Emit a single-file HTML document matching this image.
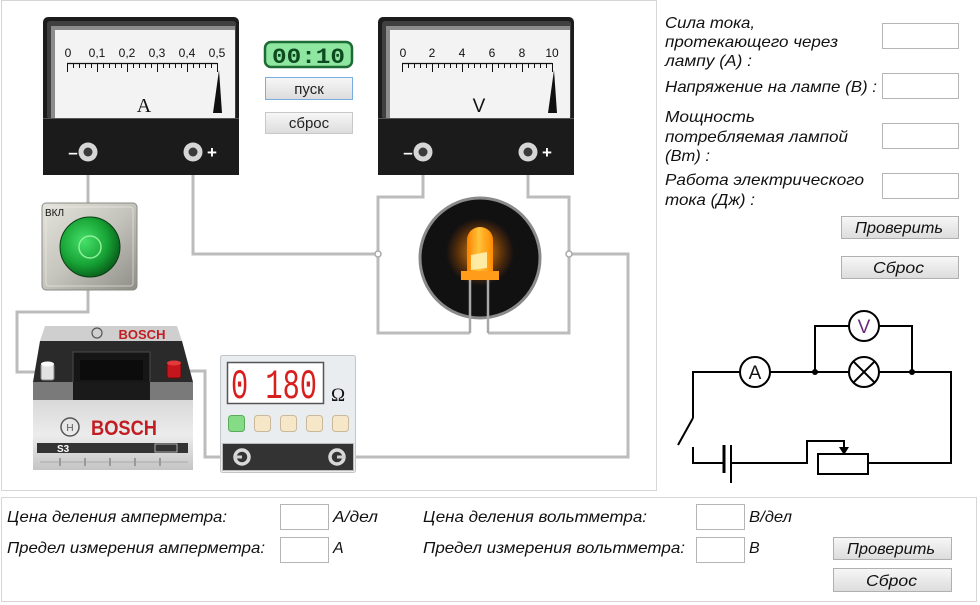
<!DOCTYPE html>
<html><head><meta charset="utf-8">
<style>
html,body{margin:0;padding:0;background:#fff;}
svg{display:block;font-family:"Liberation Sans",sans-serif;}
.it{font-style:italic;font-size:16px;fill:#111;}
</style></head>
<body>
<svg width="980" height="605" viewBox="0 0 980 605" xmlns="http://www.w3.org/2000/svg">
<defs>
  <linearGradient id="btn" x1="0" y1="0" x2="0" y2="1">
    <stop offset="0" stop-color="#f7f7f7"/><stop offset="1" stop-color="#dcdcdc"/>
  </linearGradient>
  <linearGradient id="silver" x1="0" y1="0" x2="1" y2="1">
    <stop offset="0" stop-color="#e4e4dc"/><stop offset="0.5" stop-color="#c4c4bc"/><stop offset="1" stop-color="#8e8e86"/>
  </linearGradient>
  <radialGradient id="green" cx="0.4" cy="0.4" r="0.65">
    <stop offset="0" stop-color="#46e06a"/><stop offset="0.6" stop-color="#18a436"/><stop offset="1" stop-color="#075a18"/>
  </radialGradient>
  <radialGradient id="glow" cx="0.5" cy="0.5" r="0.5">
    <stop offset="0" stop-color="#ffb020" stop-opacity="0.9"/><stop offset="0.6" stop-color="#ff8000" stop-opacity="0.35"/><stop offset="1" stop-color="#ff6000" stop-opacity="0"/>
  </radialGradient>
  <linearGradient id="led" x1="0" y1="0" x2="1" y2="0">
    <stop offset="0" stop-color="#ff8200"/><stop offset="0.45" stop-color="#ffc23a"/><stop offset="1" stop-color="#ff8a00"/>
  </linearGradient>
  <linearGradient id="batbody" x1="0" y1="0" x2="0" y2="1">
    <stop offset="0" stop-color="#d8d8d8"/><stop offset="0.5" stop-color="#ececec"/><stop offset="1" stop-color="#c4c4c4"/>
  </linearGradient>
  <g id="meter">
    <rect x="43" y="17" width="196" height="158" rx="5" fill="#1c1c1c"/>
    <rect x="47" y="21" width="189" height="98" rx="3" fill="#404040"/>
    <rect x="51" y="26" width="184" height="93" fill="#8c8c8c"/>
    <rect x="55" y="30" width="180" height="88" fill="#f3f3f3"/>
    <rect x="43" y="118" width="196" height="57" fill="#1b1b1b"/>
    <line x1="43" y1="118.5" x2="239" y2="118.5" stroke="#555" stroke-width="1"/>
    <path d="M67 63.5H217" stroke="#111" stroke-width="1.2"/>
    <path d="M67.5 63v9M73.5 63v5M79.5 63v5M85.5 63v5M91.5 63v5M97.5 63v9M103.5 63v5M109.5 63v5M115.5 63v5M121.5 63v5M127.5 63v9M133.5 63v5M139.5 63v5M145.5 63v5M151.5 63v5M157.5 63v9M163.5 63v5M169.5 63v5M175.5 63v5M181.5 63v5M187.5 63v9M193.5 63v5M199.5 63v5M205.5 63v5M211.5 63v5M217.5 63v9" stroke="#111" stroke-width="1"/>
    <polygon points="219,70 213,113 222,113" fill="#111"/>
    <circle cx="88" cy="152" r="9.5" fill="#d6d6d6"/>
    <circle cx="88" cy="152" r="4.5" fill="#3a3a3a"/>
    <circle cx="193" cy="152" r="9.5" fill="#d6d6d6"/>
    <circle cx="193" cy="152" r="4.5" fill="#3a3a3a"/>
  </g>
</defs>

<rect width="980" height="605" fill="#fff"/>
<rect x="1.5" y="0.5" width="655" height="490" fill="none" stroke="#d6d6d6"/>
<rect x="1.5" y="497.5" width="975" height="104" fill="none" stroke="#d6d6d6"/>

<!-- wires -->
<g fill="none" stroke="#bcbcbc" stroke-width="3">
  <polyline points="88,152 88,205"/>
  <polyline points="88,288 88,312 17,312 17,372 42,372"/>
  <polyline points="180,371 205,371 205,457 242,457"/>
  <polyline points="193,152 193,254 378,254"/>
  <polyline points="423,152 423,197 378,197 378,333 470,333"/>
  <polyline points="528,152 528,197 569,197 569,333 488,333"/>
  <polyline points="569,254 628,254 628,457 337,457"/>
</g>
<circle cx="378" cy="254" r="3" fill="#fff" stroke="#aaa" stroke-width="1.5"/>
<circle cx="569" cy="254" r="3" fill="#fff" stroke="#aaa" stroke-width="1.5"/>

<!-- ammeter -->
<use href="#meter"/>
<g font-size="12" fill="#111" text-anchor="middle">
  <text x="68" y="57">0</text><text x="97" y="57">0,1</text><text x="127" y="57">0,2</text>
  <text x="157" y="57">0,3</text><text x="187" y="57">0,4</text><text x="217" y="57">0,5</text>
</g>
<text x="144" y="112" font-family="Liberation Serif,serif" font-size="20" text-anchor="middle" fill="#111">A</text>
<text x="73" y="158" font-size="17" font-weight="bold" fill="#fff" text-anchor="middle">–</text>
<text x="212" y="158" font-size="17" font-weight="bold" fill="#fff" text-anchor="middle">+</text>

<!-- voltmeter -->
<use href="#meter" transform="translate(335,0)"/>
<g font-size="12" fill="#111" text-anchor="middle">
  <text x="403" y="57">0</text><text x="432" y="57">2</text><text x="462" y="57">4</text>
  <text x="492" y="57">6</text><text x="522" y="57">8</text><text x="552" y="57">10</text>
</g>
<text x="479" y="112" font-size="19" text-anchor="middle" fill="#111">V</text>
<text x="408" y="158" font-size="17" font-weight="bold" fill="#fff" text-anchor="middle">–</text>
<text x="547" y="158" font-size="17" font-weight="bold" fill="#fff" text-anchor="middle">+</text>

<!-- timer -->
<rect x="265" y="42" width="87" height="25" rx="6" fill="#8ee6a0" stroke="#1d6b35" stroke-width="2.5"/>
<text x="272" y="63" font-family="Liberation Mono,monospace" font-weight="bold" font-size="22" fill="#0e4a20" textLength="73" lengthAdjust="spacingAndGlyphs">00:10</text>
<rect x="265.5" y="77.5" width="87" height="22" fill="url(#btn)" stroke="#77aee0"/>
<text x="309" y="94" font-size="15" fill="#222" text-anchor="middle">пуск</text>
<rect x="265.5" y="112.5" width="87" height="21" fill="url(#btn)" stroke="#c8c8c8"/>
<text x="309" y="128" font-size="15" fill="#222" text-anchor="middle">сброс</text>

<!-- switch -->
<rect x="42" y="203" width="95" height="87" rx="4" fill="url(#silver)" stroke="#8a8a84"/>
<rect x="46" y="207" width="87" height="79" rx="3" fill="none" stroke="#eeeee8" stroke-opacity="0.6"/>
<text x="45" y="216" font-size="10" fill="#111">ВКЛ</text>
<circle cx="90" cy="247" r="30" fill="url(#green)" stroke="#0b3d14" stroke-width="1"/>
<circle cx="90" cy="247" r="11" fill="none" stroke="#8ff09a" stroke-width="1.5"/>

<!-- battery -->
<polygon points="45,326 177,326 182,341 40,341" fill="#cfcfcf"/>
<text x="142" y="339" font-size="13" font-weight="bold" fill="#c21d22" text-anchor="middle">BOSCH</text>
<circle cx="97" cy="333" r="5" fill="none" stroke="#555" stroke-width="1.2"/>
<polygon points="40,341 182,341 193,382 33,382" fill="#2a2a2a"/>
<rect x="73" y="352" width="77" height="48" fill="#161616" stroke="#4a4a4a"/>
<rect x="80" y="360" width="63" height="20" fill="#0c0c0c"/>
<polygon points="33,382 193,382 193,400 33,400" fill="#7a7a7a"/>
<rect x="73" y="382" width="77" height="18" fill="#1a1a1a"/>
<rect x="41" y="364" width="13" height="16" rx="2" fill="#e2e2e2" stroke="#888"/>
<ellipse cx="47.5" cy="364" rx="6.5" ry="2.5" fill="#fafafa"/>
<rect x="167" y="363" width="14" height="15" rx="2" fill="#c4161c" stroke="#6a0a0a"/>
<ellipse cx="174" cy="363" rx="7" ry="2.5" fill="#e23a3a"/>
<rect x="33" y="400" width="160" height="70" fill="url(#batbody)"/>
<circle cx="70" cy="427" r="9" fill="none" stroke="#555" stroke-width="1.5"/>
<text x="70" y="431" font-size="10" fill="#555" text-anchor="middle">H</text>
<text x="124" y="435" font-size="21" font-weight="bold" fill="#c21d22" text-anchor="middle" textLength="66" lengthAdjust="spacingAndGlyphs">BOSCH</text>
<rect x="37" y="443" width="151" height="10" fill="#333"/>
<text x="57" y="452" font-size="10" font-weight="bold" fill="#fff">S3</text>
<rect x="155" y="444" width="22" height="8" fill="none" stroke="#ccc" stroke-width="0.8"/>
<path d="M40 462H188" stroke="#aaa" stroke-width="1"/>
<path d="M60 458v8M85 458v8M110 458v8M135 458v8M160 458v8" stroke="#999" stroke-width="2"/>

<!-- resistor box -->
<rect x="220.5" y="355.5" width="135" height="117" rx="2" fill="#e9edf0" stroke="#c2c6c9"/>
<rect x="227.5" y="362.5" width="96" height="41" fill="#fff" stroke="#555" stroke-width="1.5"/>
<text x="231" y="398" font-family="Liberation Mono,monospace" font-size="42" fill="#d91e1e" textLength="86" lengthAdjust="spacingAndGlyphs">0 180</text>
<text x="338" y="401" font-family="Liberation Serif,serif" font-size="19" fill="#111" text-anchor="middle">Ω</text>
<rect x="228.5" y="415.5" width="16" height="16" rx="3" fill="#86dc86" stroke="#5aaa5a"/>
<rect x="254.5" y="415.5" width="16" height="16" rx="3" fill="#f6e7c8" stroke="#c9b99a"/>
<rect x="280.5" y="415.5" width="16" height="16" rx="3" fill="#f6e7c8" stroke="#c9b99a"/>
<rect x="306.5" y="415.5" width="16" height="16" rx="3" fill="#f6e7c8" stroke="#c9b99a"/>
<rect x="332.5" y="415.5" width="16" height="16" rx="3" fill="#f6e7c8" stroke="#c9b99a"/>
<rect x="222.5" y="443.5" width="131" height="27" fill="#333" stroke="#bbb"/>
<circle cx="242" cy="457" r="7" fill="#333" stroke="#d8d8d8" stroke-width="3.5"/>
<circle cx="337" cy="457" r="7" fill="#333" stroke="#d8d8d8" stroke-width="3.5"/>
<line x1="234" y1="457" x2="242" y2="457" stroke="#d0d0d0" stroke-width="3"/>
<line x1="337" y1="457" x2="345" y2="457" stroke="#d0d0d0" stroke-width="3"/>

<!-- lamp -->
<circle cx="480" cy="258" r="60" fill="#111" stroke="#8a8a8a" stroke-width="3"/>
<circle cx="480" cy="252" r="34" fill="url(#glow)"/>
<line x1="470" y1="276" x2="470" y2="333" stroke="#a8a8a8" stroke-width="2.5"/>
<line x1="488" y1="276" x2="488" y2="333" stroke="#a8a8a8" stroke-width="2.5"/>
<path d="M467 273V240A13 13 0 0 1 493 240V273Z" fill="url(#led)"/>
<polygon points="471,255 487,252 487,268 471,270" fill="#fff1b0" opacity="0.9"/>
<rect x="461" y="271" width="38" height="9" fill="#ff9d1a"/>

<!-- right panel text -->
<text class="it" x="665" y="28" textLength="90" lengthAdjust="spacingAndGlyphs">Сила тока,</text>
<text class="it" x="665" y="47" textLength="173" lengthAdjust="spacingAndGlyphs">протекающего через</text>
<text class="it" x="665" y="66" textLength="87" lengthAdjust="spacingAndGlyphs">лампу (А) :</text>
<text class="it" x="665" y="92" textLength="212" lengthAdjust="spacingAndGlyphs">Напряжение на лампе (В) :</text>
<text class="it" x="665" y="122" textLength="90" lengthAdjust="spacingAndGlyphs">Мощность</text>
<text class="it" x="665" y="142" textLength="183" lengthAdjust="spacingAndGlyphs">потребляемая лампой</text>
<text class="it" x="665" y="161" textLength="45" lengthAdjust="spacingAndGlyphs">(Вт) :</text>
<text class="it" x="665" y="185" textLength="199" lengthAdjust="spacingAndGlyphs">Работа электрического</text>
<text class="it" x="665" y="205" textLength="90" lengthAdjust="spacingAndGlyphs">тока (Дж) :</text>
<g fill="#fff" stroke="#b5b5b5">
  <rect x="882.5" y="23.5" width="76" height="25"/>
  <rect x="882.5" y="73.5" width="76" height="25"/>
  <rect x="882.5" y="123.5" width="76" height="25"/>
  <rect x="882.5" y="173.5" width="76" height="25"/>
</g>
<rect x="841.5" y="216.5" width="117" height="22" fill="url(#btn)" stroke="#b0b0b0"/>
<text class="it" x="855" y="233" textLength="88" lengthAdjust="spacingAndGlyphs">Проверить</text>
<rect x="841.5" y="256.5" width="117" height="22" fill="url(#btn)" stroke="#b0b0b0"/>
<text class="it" x="873" y="273" textLength="51" lengthAdjust="spacingAndGlyphs">Сброс</text>

<!-- circuit diagram -->
<g fill="none" stroke="#000" stroke-width="2">
  <path d="M693 418V372H740M770 372H849M879 372H951V463H868"/>
  <path d="M693 418L678 445"/>
  <path d="M693 447V463H724"/>
  <path d="M731 463H807V441H844V450"/>
  <path d="M815 372V326H849M879 326H912V372"/>
  <rect x="818" y="454" width="50" height="20"/>
  <circle cx="755" cy="372" r="15" fill="#fff"/>
  <circle cx="864" cy="326" r="15" fill="#fff"/>
  <circle cx="864" cy="372" r="15" fill="#fff"/>
  <path d="M853.4 361.4L874.6 382.6M874.6 361.4L853.4 382.6"/>
  <path d="M724 445V473" stroke-width="3"/>
  <path d="M731 445V483"/>
</g>
<polygon points="839,447 849,447 844,455" fill="#000"/>
<circle cx="815" cy="372" r="3" fill="#000"/>
<circle cx="912" cy="372" r="3" fill="#000"/>
<text x="755" y="379" font-size="19" text-anchor="middle" fill="#111">A</text>
<text x="864" y="333" font-size="19" text-anchor="middle" fill="#6a2a7a">V</text>

<!-- bottom panel -->
<text class="it" x="7" y="522" textLength="220" lengthAdjust="spacingAndGlyphs">Цена деления амперметра:</text>
<text class="it" x="7" y="553" textLength="258" lengthAdjust="spacingAndGlyphs">Предел измерения амперметра:</text>
<g fill="#fff" stroke="#b5b5b5">
  <rect x="280.5" y="504.5" width="48" height="25"/>
  <rect x="280.5" y="537.5" width="48" height="25"/>
  <rect x="696.5" y="504.5" width="48" height="25"/>
  <rect x="696.5" y="537.5" width="48" height="25"/>
</g>
<text class="it" x="333" y="522" textLength="45" lengthAdjust="spacingAndGlyphs">А/дел</text>
<text class="it" x="333" y="553">А</text>
<text class="it" x="423" y="522" textLength="224" lengthAdjust="spacingAndGlyphs">Цена деления вольтметра:</text>
<text class="it" x="423" y="553" textLength="262" lengthAdjust="spacingAndGlyphs">Предел измерения вольтметра:</text>
<text class="it" x="749" y="522" textLength="43" lengthAdjust="spacingAndGlyphs">В/дел</text>
<text class="it" x="749" y="553">В</text>
<rect x="833.5" y="537.5" width="118" height="22" fill="url(#btn)" stroke="#b0b0b0"/>
<text class="it" x="847" y="554" textLength="88" lengthAdjust="spacingAndGlyphs">Проверить</text>
<rect x="833.5" y="568.5" width="118" height="23" fill="url(#btn)" stroke="#b0b0b0"/>
<text class="it" x="866" y="586" textLength="51" lengthAdjust="spacingAndGlyphs">Сброс</text>
</svg>
</body></html>
